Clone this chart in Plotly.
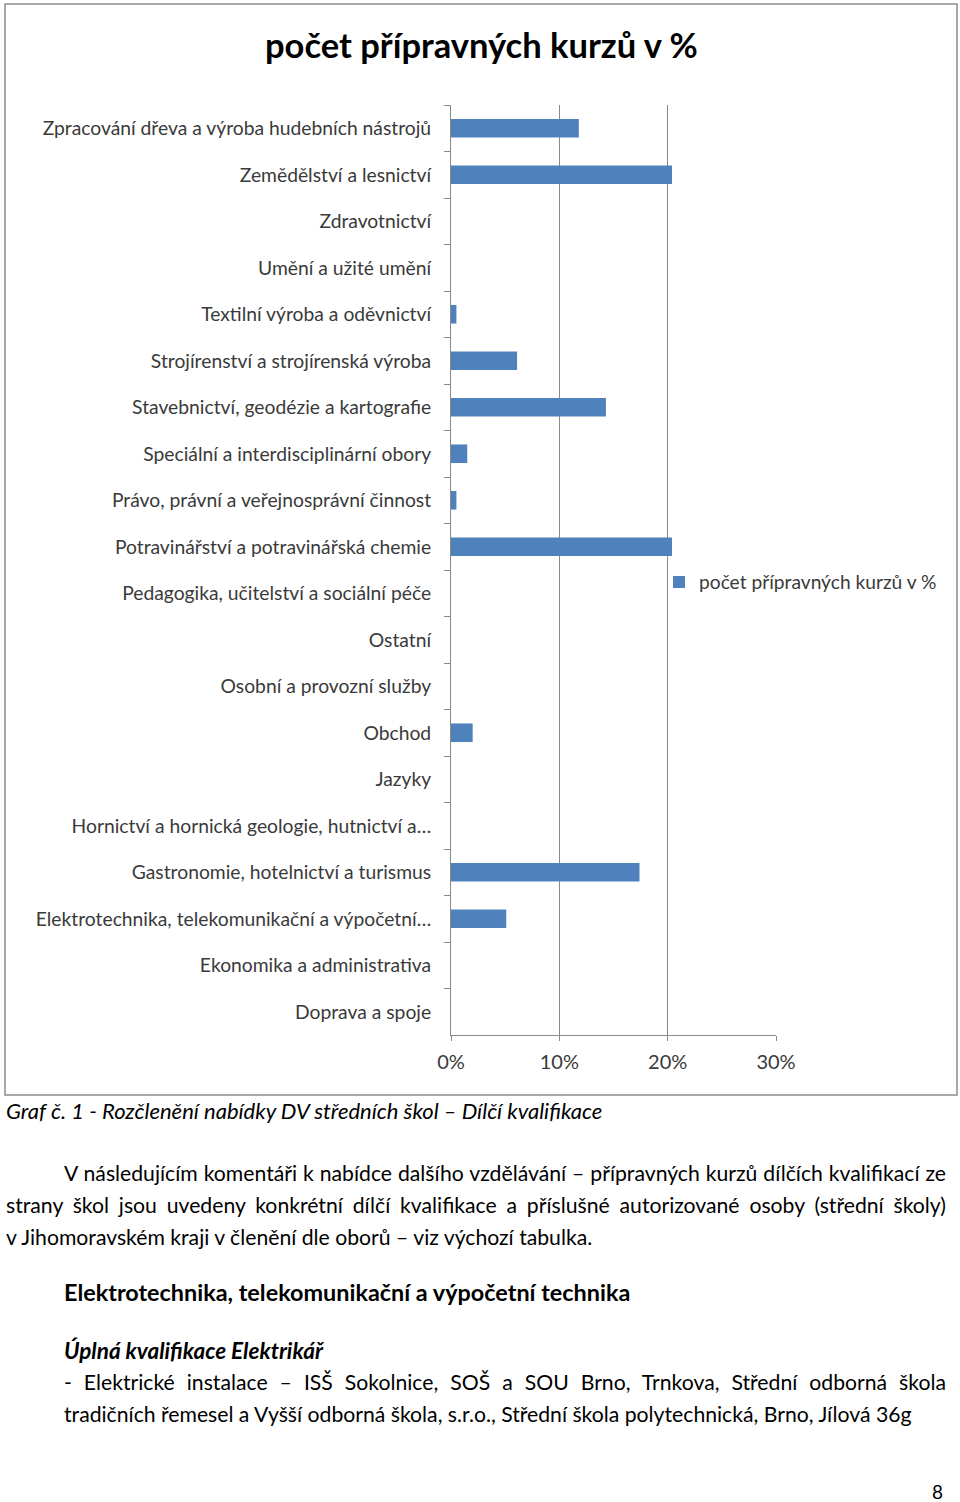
import plotly.graph_objects as go
import json

categories = [
    "Zpracování dřeva a výroba hudebních nástrojů",
    "Zemědělství a lesnictví",
    "Zdravotnictví",
    "Umění a užité umění",
    "Textilní výroba a oděvnictví",
    "Strojírenství a strojírenská výroba",
    "Stavebnictví, geodézie a kartografie",
    "Speciální a interdisciplinární obory",
    "Právo, právní a veřejnosprávní činnost",
    "Potravinářství a potravinářská chemie",
    "Pedagogika, učitelství a sociální péče",
    "Ostatní",
    "Osobní a provozní služby",
    "Obchod",
    "Jazyky",
    "Hornictví a hornická geologie, hutnictví a…",
    "Gastronomie, hotelnictví a turismus",
    "Elektrotechnika, telekomunikační a výpočetní…",
    "Ekonomika a administrativa",
    "Doprava a spoje",
]
values_pct = [11.8, 20.4, 0, 0, 0.5, 6.1, 14.3, 1.5, 0.5, 20.4,
              0, 0, 0, 2.0, 0, 0, 17.4, 5.1, 0, 0]
series_name = "počet přípravných kurzů v %"
x_ticks = [0, 10, 20, 30]
x_tick_labels = ["0%", "10%", "20%", "30%"]

chart_title = "počet přípravných kurzů v %"
caption = "Graf č. 1 - Rozčlenění nabídky DV středních škol – Dílčí kvalifikace"
para_lines = [
    "V následujícím komentáři k nabídce dalšího vzdělávání – přípravných kurzů dílčích kvalifikací ze",
    "strany škol jsou uvedeny konkrétní dílčí kvalifikace a příslušné autorizované osoby (střední školy)",
    "v Jihomoravském kraji v členění dle oborů – viz výchozí tabulka.",
]
heading = "Elektrotechnika, telekomunikační a výpočetní technika"
subheading = "Úplná kvalifikace Elektrikář"
item_lines = [
    "- Elektrické instalace – ISŠ Sokolnice, SOŠ a SOU Brno, Trnkova, Střední odborná škola",
    "tradičních řemesel a Vyšší odborná škola, s.r.o., Střední škola polytechnická, Brno, Jílová 36g",
]
page_number = "8"

W, H = 960, 1502
FONT = "Lato"
BLUE = "#4F81BD"
GRID = "#8a8a8a"
TXT = "#3a3a3a"
BODY = 21.2

def px(x):
    return x / W

def py(y):
    return 1 - y / H

fig = go.Figure()
fig.add_trace(go.Bar(
    y=categories, x=values_pct, orientation="h",
    marker=dict(color=BLUE, line=dict(width=0)),
    width=0.4, name=series_name, showlegend=True,
))

annotations = []
justify = {}  # annotation index -> target width in px

def add_text(text, x, y, size, anchor="left", target=None):
    if target is not None:
        justify[str(len(annotations))] = target
    annotations.append(dict(text=text, x=px(x), y=py(y), xref="paper", yref="paper",
                            xanchor=anchor, yanchor="middle", align="left", showarrow=False,
                            font=dict(family=FONT, size=size, color="#000000")))

add_text(f"<b>{chart_title}</b>", 481, 45, 34.5, anchor="center")
add_text(f"<i>{caption}</i>", 4, 1110, 22)
add_text(para_lines[0], 62, 1173, BODY, target=944 - 62)
add_text(para_lines[1], 4, 1205, BODY, target=944 - 4)
add_text(para_lines[2], 4, 1237, BODY)
add_text(f"<b>{heading}</b>", 62, 1292, 23.4)
add_text(f"<b><i>{subheading}</i></b>", 62, 1350, 22.5)
add_text(item_lines[0], 62, 1382, BODY, target=944 - 62)
add_text(item_lines[1], 62, 1414, BODY)
add_text(page_number, 945, 1491, 19, anchor="right")

fig.update_layout(
    width=W, height=H,
    margin=dict(l=0, r=0, t=0, b=0, autoexpand=False),
    paper_bgcolor="white", plot_bgcolor="white",
    font=dict(family=FONT, size=19.3, color=TXT),
    xaxis=dict(
        domain=[px(451), px(776)], range=[0, 30],
        tickvals=x_ticks, ticktext=x_tick_labels,
        showgrid=True, gridcolor=GRID, gridwidth=1,
        showline=True, linecolor=GRID, linewidth=1,
        ticks="outside", ticklen=5, tickcolor=GRID,
        ticklabelstandoff=4, automargin=False,
        tickfont=dict(family=FONT, size=20, color=TXT),
        zeroline=False, fixedrange=True,
    ),
    yaxis=dict(
        domain=[py(1035), py(105)],
        categoryorder="array", categoryarray=categories,
        autorange="reversed",
        showline=True, linecolor=GRID, linewidth=1,
        ticks="outside", ticklen=6, tickcolor=GRID, tickson="boundaries",
        tickfont=dict(family=FONT, size=19.3, color=TXT),
        ticklabelstandoff=15, automargin=False,
        showgrid=False, zeroline=False, fixedrange=True,
    ),
    legend=dict(
        x=px(659), y=py(582), xanchor="left", yanchor="middle",
        font=dict(family=FONT, size=19.2, color=TXT),
        bgcolor="rgba(0,0,0,0)", itemwidth=30,
    ),
    annotations=annotations,
    shapes=[dict(type="rect", xref="paper", yref="paper",
                 x0=px(5), x1=px(957), y0=py(1095), y1=py(4),
                 line=dict(color="#8c8c8c", width=1.5), fillcolor="rgba(0,0,0,0)",
                 layer="below")],
)

post_js = """
(function(){
  var de = document.documentElement, b = document.body;
  de.style.margin = '0'; b.style.margin = '0'; b.style.padding = '0';
  de.style.overflow = 'hidden'; b.style.overflow = 'hidden';
  var targets = %s;
  var gd = document.getElementById('{plot_id}');
  function justify(){
    var groups = gd.querySelectorAll('g.annotation');
    groups.forEach(function(g){
      var idx = g.getAttribute('data-index');
      if (targets[idx] === undefined) return;
      var t = g.querySelector('text.annotation-text');
      if (!t) return;
      t.style.wordSpacing = '0px';
      var w = t.getComputedTextLength();
      var n = (t.textContent.match(/[ \\u00a0]/g) || []).length;
      if (n > 0) { t.style.wordSpacing = ((targets[idx] - w) / n) + 'px'; }
    });
  }
  justify();
  if (document.fonts && document.fonts.ready) { document.fonts.ready.then(justify); }
  setTimeout(justify, 300);
})();
""" % json.dumps(justify)

fig.write_html("out.html", post_script=post_js, config={"displayModeBar": False})
